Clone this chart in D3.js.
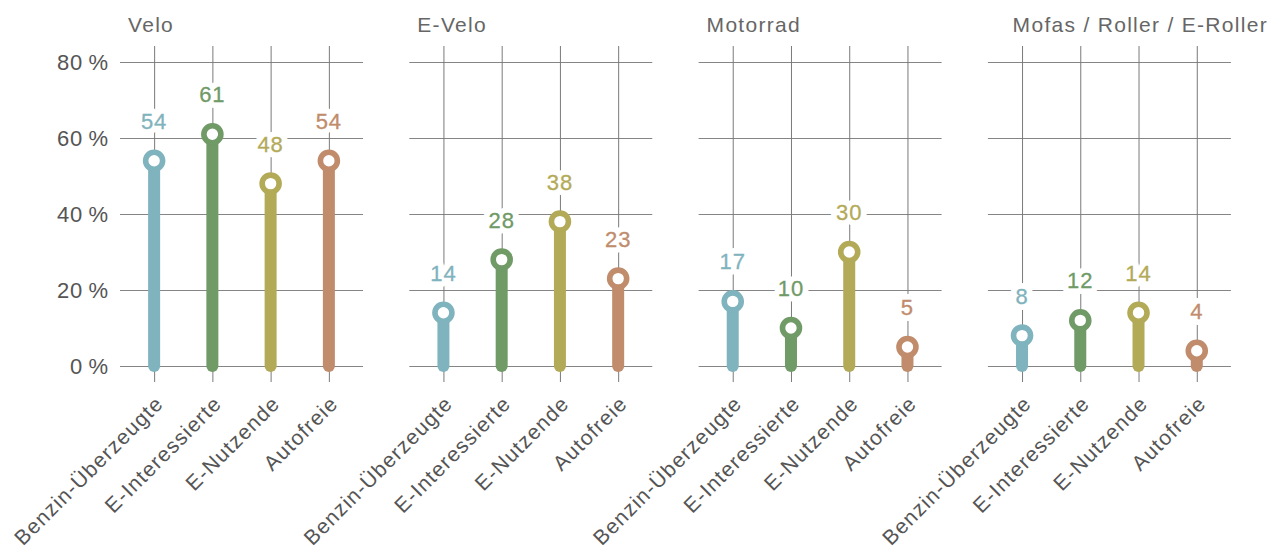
<!DOCTYPE html>
<html>
<head>
<meta charset="utf-8">
<script src="https://cdn.jsdelivr.net/npm/d3@7/dist/d3.min.js"></script>
<style>
  html, body { margin: 0; padding: 0; background: #fff; }
  svg { display: block; font-family: "Liberation Sans", Arial, sans-serif; }
</style>
</head>
<body>
<svg id="chart" width="1277" height="550"></svg>
<script>
// ---- data ----
const panels = ["Velo", "E-Velo", "Motorrad", "Mofas / Roller / E-Roller"];
const groups = ["Benzin-Überzeugte", "E-Interessierte", "E-Nutzende", "Autofreie"];
const benzinUeberzeugte = [54, 14, 17, 8];
const eInteressierte   = [61, 28, 10, 12];
const eNutzende        = [48, 38, 30, 14];
const autofreie        = [54, 23, 5, 4];
const yTicks = [0, 20, 40, 60, 80];
const groupColors = ["#7fb3bd", "#709a66", "#b3aa58", "#c08c6c"];

const series = [benzinUeberzeugte, eInteressierte, eNutzende, autofreie];

// ---- layout ----
const W = 1277, H = 550;
const panelX0 = 120, panelStep = 289.3, panelW = 243;
const gridTop = 46, axisY = 382;

const svg = d3.select("#chart");

const y = d3.scaleLinear().domain([0, 80]).range([366, 62]);
const x = d3.scalePoint().domain(groups).range([0, panelW]).padding(0.586);
const color = d3.scaleOrdinal().domain(groups).range(groupColors);

panels.forEach((p, i) => {
  const px = panelX0 + i * panelStep;
  const g = svg.append("g").attr("transform", `translate(${px},0)`);

  // horizontal grid via y axis
  const yAxis = d3.axisLeft(y).tickValues(yTicks).tickSize(-panelW).tickPadding(11)
    .tickFormat(i === 0 ? (d => d + "\u2009%") : (() => ""));
  const ya = g.append("g").call(yAxis);
  ya.select(".domain").remove();
  ya.selectAll(".tick line").attr("stroke", "#858585").attr("stroke-width", 1.2);
  ya.selectAll(".tick text").attr("fill", "#555").attr("font-size", 22)
    .attr("letter-spacing", 0.9).attr("font-family", "Liberation Sans, Arial, sans-serif");

  // vertical grid via x axis
  const xAxis = d3.axisBottom(x).tickSize(-(axisY - gridTop)).tickSizeOuter(0).tickFormat(d => d);
  const xa = g.append("g").attr("transform", `translate(0,${axisY})`).call(xAxis);
  xa.select(".domain").remove();
  xa.selectAll(".tick line").attr("stroke", "#7a7a7a").attr("stroke-width", 1);
  xa.selectAll(".tick text")
    .attr("fill", "#555").attr("font-size", 21).attr("letter-spacing", 1.2)
    .attr("font-family", "Liberation Sans, Arial, sans-serif")
    .attr("text-anchor", "end")
    .attr("transform", "translate(10,23) rotate(-45)")
    .attr("y", 0).attr("dy", 0);

  const data = groups.map((gr, k) => ({ group: gr, value: series[k][i] }));

  // stems
  g.selectAll("line.stem").data(data).join("line").attr("class", "stem")
    .attr("x1", d => x(d.group)).attr("x2", d => x(d.group))
    .attr("y1", y(0)).attr("y2", d => y(d.value))
    .attr("stroke", d => color(d.group)).attr("stroke-width", 12)
    .attr("stroke-linecap", "round");

  // heads
  g.selectAll("circle.head").data(data).join("circle").attr("class", "head")
    .attr("cx", d => x(d.group)).attr("cy", d => y(d.value)).attr("r", 8.5)
    .attr("fill", "#fff").attr("stroke", d => color(d.group)).attr("stroke-width", 5.6);

  // value labels (halo + text)
  g.selectAll("text.halo").data(data).join("text").attr("class", "halo")
    .attr("x", d => x(d.group)).attr("y", d => y(d.value) - 32)
    .attr("text-anchor", "middle").attr("font-size", 22).attr("letter-spacing", 1)
    .attr("fill", "#fff").attr("stroke", "#fff").attr("stroke-width", 12)
    .attr("stroke-linejoin", "round")
    .text(d => d.value);
  g.selectAll("text.val").data(data).join("text").attr("class", "val")
    .attr("x", d => x(d.group)).attr("y", d => y(d.value) - 32)
    .attr("text-anchor", "middle").attr("font-size", 22).attr("letter-spacing", 1)
    .attr("fill", d => color(d.group)).attr("stroke", d => color(d.group)).attr("stroke-width", 0.3)
    .text(d => d.value);

  // title
  const t = g.append("text").attr("y", 32).attr("font-size", 21).attr("letter-spacing", 1.3)
    .attr("fill", "#666").attr("x", 8).text(p);
  const len = t.node().getComputedTextLength();
  if (len > panelW - 8) {
    t.attr("text-anchor", "end").attr("x", W - 9 - px);
  }
});
</script>
</body>
</html>
